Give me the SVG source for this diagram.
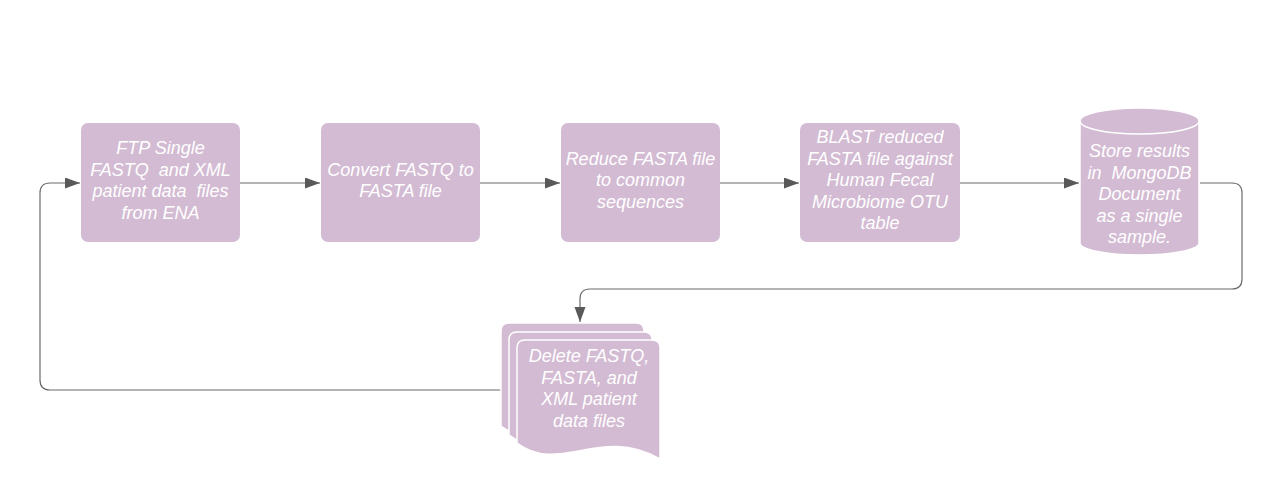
<svg xmlns="http://www.w3.org/2000/svg" width="1281" height="499" viewBox="0 0 1281 499">
<style>
.node{fill:#d3bbd3;}
.page{fill:#d3bbd3;stroke:#ffffff;stroke-width:1.5;}
.lbl{font-family:"Liberation Sans",Arial,sans-serif;font-style:italic;font-size:18px;fill:#ffffff;text-anchor:middle;}
.conn{fill:none;stroke:#6b6b6b;stroke-width:1.2;marker-end:url(#arrow);}
</style>
<defs>
<marker id="arrow" markerUnits="userSpaceOnUse" markerWidth="16" markerHeight="12" refX="15" refY="5.5" orient="auto">
<path d="M0,0 L15,5.5 L0,11 Z" fill="#595959"/>
</marker>
</defs>
<rect width="1281" height="499" fill="#ffffff"/>
<g id="connectors">
<path class="conn" d="M240,183 L320,183"/>
<path class="conn" d="M480,183 L560,183"/>
<path class="conn" d="M720,183 L799,183"/>
<path class="conn" d="M960,183 L1079,183"/>
<path class="conn" d="M1200,183 L1232,183 Q1242,183 1242,193 L1242,279 Q1242,289 1232,289 L590,289 Q580,289 580,299 L580,322"/>
<path class="conn" d="M501,390 L50,390 Q40,390 40,380 L40,193 Q40,183 50,183 L80,183"/>
</g>
<g id="node-ftp">
<rect class="node" x="81" y="123" width="159" height="119" rx="7"/>
<text class="lbl" x="160.5" y="154">FTP Single</text>
<text class="lbl" x="160.5" y="175.5" xml:space="preserve">FASTQ  and XML</text>
<text class="lbl" x="160.5" y="197" xml:space="preserve">patient data  files</text>
<text class="lbl" x="160.5" y="218.5">from ENA</text>
</g>
<g id="node-convert">
<rect class="node" x="321" y="123" width="159" height="119" rx="7"/>
<text class="lbl" x="400.5" y="175.5">Convert FASTQ to</text>
<text class="lbl" x="400.5" y="197">FASTA file</text>
</g>
<g id="node-reduce">
<rect class="node" x="561" y="123" width="159" height="119" rx="7"/>
<text class="lbl" x="640.5" y="164.5">Reduce FASTA file</text>
<text class="lbl" x="640.5" y="186">to common</text>
<text class="lbl" x="640.5" y="207.5">sequences</text>
</g>
<g id="node-blast">
<rect class="node" x="800" y="123" width="160" height="119" rx="7"/>
<text class="lbl" x="880" y="143">BLAST reduced</text>
<text class="lbl" x="880" y="164.5">FASTA file against</text>
<text class="lbl" x="880" y="186">Human Fecal</text>
<text class="lbl" x="880" y="207.5">Microbiome OTU</text>
<text class="lbl" x="880" y="229">table</text>
</g>
<g id="node-store">
<path class="page" d="M1080,121 A59.5,13 0 0 1 1199,121 L1199,243 A59.5,12 0 0 1 1080,243 Z"/>
<path d="M1080,121 A59.5,13 0 0 0 1199,121" fill="none" stroke="#ffffff" stroke-width="1.5"/>
<text class="lbl" x="1139.5" y="157">Store results</text>
<text class="lbl" x="1139.5" y="178.5" xml:space="preserve">in  MongoDB</text>
<text class="lbl" x="1139.5" y="200">Document</text>
<text class="lbl" x="1139.5" y="221.5">as a single</text>
<text class="lbl" x="1139.5" y="243">sample.</text>
</g>
<g id="node-delete">
<path class="page" transform="translate(-16,-17)" d="M517,348 Q517,340 525,340 L652,340 Q660,340 660,348 L660,459 C600,425 560,475 517,443 Z"/>
<path class="page" transform="translate(-8,-8)" d="M517,348 Q517,340 525,340 L652,340 Q660,340 660,348 L660,459 C600,425 560,475 517,443 Z"/>
<path class="page" d="M517,348 Q517,340 525,340 L652,340 Q660,340 660,348 L660,459 C600,425 560,475 517,443 Z"/>
<text class="lbl" x="589" y="362">Delete FASTQ,</text>
<text class="lbl" x="589" y="383.5">FASTA, and</text>
<text class="lbl" x="589" y="405">XML patient</text>
<text class="lbl" x="589" y="426.5">data files</text>
</g>
</svg>
